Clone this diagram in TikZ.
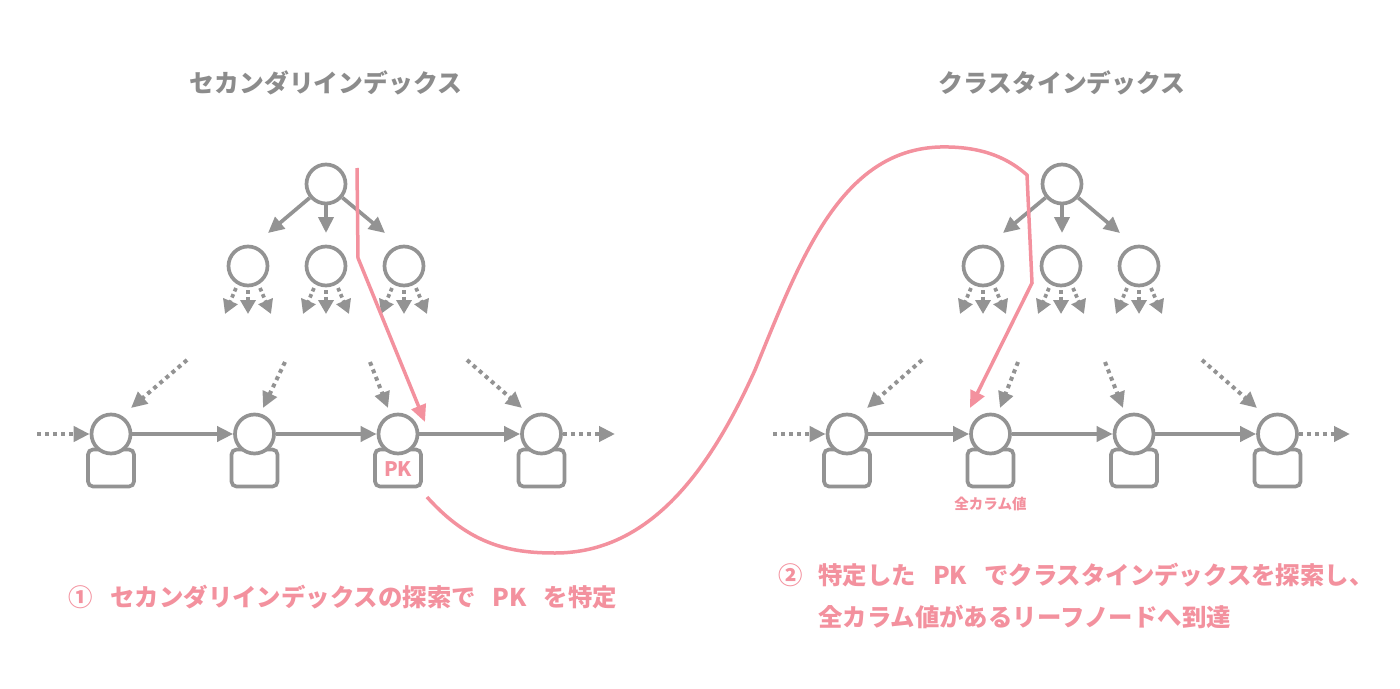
\documentclass[tikz,border=0pt]{standalone}
\usepackage{fontspec}
\setmainfont{Noto Sans CJK JP}
\usetikzlibrary{arrows.meta}
\definecolor{gry}{HTML}{939393}
\definecolor{tgry}{HTML}{8C8C8C}
\definecolor{pnk}{HTML}{F3919E}
\begin{document}
\begin{tikzpicture}[x=1pt,y=-1pt,
  gr/.style={draw=gry, line width=3.7pt},
  cnode/.style={circle, gr, fill=white, minimum size=39pt, inner sep=0pt},
  recbox/.style={rectangle, rounded corners=5pt, gr, fill=white, minimum width=46pt, minimum height=37pt, inner sep=0pt},
  sarr/.style={gr, -{Triangle[length=16pt,width=15pt]}},
  darr/.style={draw=gry, line width=4pt, dash pattern=on 4pt off 4pt, -{Triangle[length=16pt,width=15pt]}},
  smarr/.style={draw=gry, line width=3.7pt, dash pattern=on 3.7pt off 3pt, -{Triangle[length=14pt,width=15pt]}},
  parr/.style={draw=pnk, line width=3.5pt, -{Triangle[length=17pt,width=15pt]}},
  ttl/.style={font=\fontsize{24.8}{30}\selectfont\bfseries, text=tgry},
  captxt/.style={font=\fontsize{24.4}{30}\selectfont\bfseries, text=pnk, anchor=west, inner sep=0pt},
]
\useasboundingbox (0,0) rectangle (1400,688);

% ---------- titles ----------
\node[ttl] (t1) at (326,83) {セカンダリインデックス};
\node[ttl] (t2) at (1062,83) {クラスタインデックス};

% ---------- left tree ----------
\node[cnode] (lr) at (326,184) {};
\node[cnode] (lc1) at (248,266) {};
\node[cnode] (lc2) at (326,266) {};
\node[cnode] (lc3) at (404,266) {};
\coordinate (ltp1) at (268,233);
\coordinate (ltp2) at (326,233);
\coordinate (ltp3) at (385,233);
\draw[sarr] (lr) -- (ltp1);
\draw[sarr] (lr) -- (ltp2);
\draw[sarr] (lr) -- (ltp3);

% ---------- right tree ----------
\node[cnode] (rr) at (1062,184) {};
\node[cnode] (rc1) at (983,266) {};
\node[cnode] (rc2) at (1061,266) {};
\node[cnode] (rc3) at (1139,266) {};
\coordinate (rtp1) at (1003,233);
\coordinate (rtp2) at (1062,233);
\coordinate (rtp3) at (1120,233);
\draw[sarr] (rr) -- (rtp1);
\draw[sarr] (rr) -- (rtp2);
\draw[sarr] (rr) -- (rtp3);

% small dotted arrows under internal nodes
\foreach \c in {lc1,lc2,lc3,rc1,rc2,rc3}{
  \coordinate (\c-s1) at ([shift={(-12,22)}]\c.center);
  \coordinate (\c-e1) at ([shift={(-23,48)}]\c.center);
  \coordinate (\c-s2) at ([shift={(0,24)}]\c.center);
  \coordinate (\c-e2) at ([shift={(0,48)}]\c.center);
  \coordinate (\c-s3) at ([shift={(12,22)}]\c.center);
  \coordinate (\c-e3) at ([shift={(23,48)}]\c.center);
  \draw[smarr] (\c-s1) -- (\c-e1);
  \draw[smarr] (\c-s2) -- (\c-e2);
  \draw[smarr] (\c-s3) -- (\c-e3);
}

% ---------- leaves ----------
\foreach \n/\x in {l1/111, l2/254.5, l3/398, l4/541.5, r1/847, r2/990.5, r3/1134, r4/1277.5}{
  \node[recbox] (\n b) at (\x,468) {};
  \node[cnode] (\n) at (\x,434) {};
}
\node[font=\fontsize{20}{24}\selectfont\bfseries, text=pnk, inner sep=0pt] (pk) at (398,469) {PK};
\node[font=\fontsize{14.5}{17}\selectfont\bfseries, text=pnk, inner sep=0pt] (allc) at (990.5,504) {全カラム値};

% leaf links
\draw[sarr] (l1) -- (l2);
\draw[sarr] (l2) -- (l3);
\draw[sarr] (l3) -- (l4);
\draw[sarr] (r1) -- (r2);
\draw[sarr] (r2) -- (r3);
\draw[sarr] (r3) -- (r4);
\coordinate (lin) at (37,434);
\coordinate (lout) at (615,434);
\coordinate (rin) at (773,434);
\coordinate (rout) at (1350,434);
\draw[darr] (lin) -- (l1);
\draw[darr] (l4) -- (lout);
\draw[darr] (rin) -- (r1);
\draw[darr] (r4) -- (rout);

% diagonal dotted arrows into leaves
\coordinate (ld1s) at (187,360); \coordinate (ld1e) at (131,408);
\coordinate (ld2s) at (285,362); \coordinate (ld2e) at (263,408);
\coordinate (ld3s) at (370,362); \coordinate (ld3e) at (388,408);
\coordinate (ld4s) at (467,360); \coordinate (ld4e) at (522,408);
\coordinate (rd1s) at (922,360); \coordinate (rd1e) at (867,408);
\coordinate (rd2s) at (1018,362); \coordinate (rd2e) at (1000,408);
\coordinate (rd3s) at (1105,362); \coordinate (rd3e) at (1123,408);
\coordinate (rd4s) at (1202,360); \coordinate (rd4e) at (1257,408);
\foreach \a in {ld1,ld2,ld3,ld4,rd1,rd2,rd3,rd4}{
  \draw[darr] (\a s) -- (\a e);
}

% ---------- pink paths ----------
\coordinate (p1) at (357,168);
\coordinate (p2) at (358,258);
\coordinate (p3) at (425,422);
\draw[parr, line join=miter] (p1) -- (p2) -- (p3);

\coordinate (q0) at (427,497);
\coordinate (q1) at (555,553);
\coordinate (q2) at (755,370);
\coordinate (q3) at (940,147);
\coordinate (q4) at (1027,175);
\coordinate (q5) at (1032,283);
\coordinate (q6) at (970,408);
\draw[parr, line join=miter] (q0) .. controls (470,545) and (510,553) .. (q1)
  .. controls (650,553) and (710,470) .. (q2)
  .. controls (800,260) and (840,150) .. (q3)
  .. controls (985,146) and (1010,160) .. (q4)
  -- (q5) -- (q6);

% ---------- captions ----------
\node[captxt] (c1) at (68,597) {①\hspace{18pt}セカンダリインデックスの探索で\hspace{17pt}PK\hspace{17pt}を特定};
\node[captxt] (c2a) at (778,575) {②\hspace{16pt}特定した\hspace{17pt}PK\hspace{17pt}でクラスタインデックスを探索し、};
\node[captxt] (c2b) at (818,617) {全カラム値があるリーフノードへ到達};
\end{tikzpicture}
\end{document}
